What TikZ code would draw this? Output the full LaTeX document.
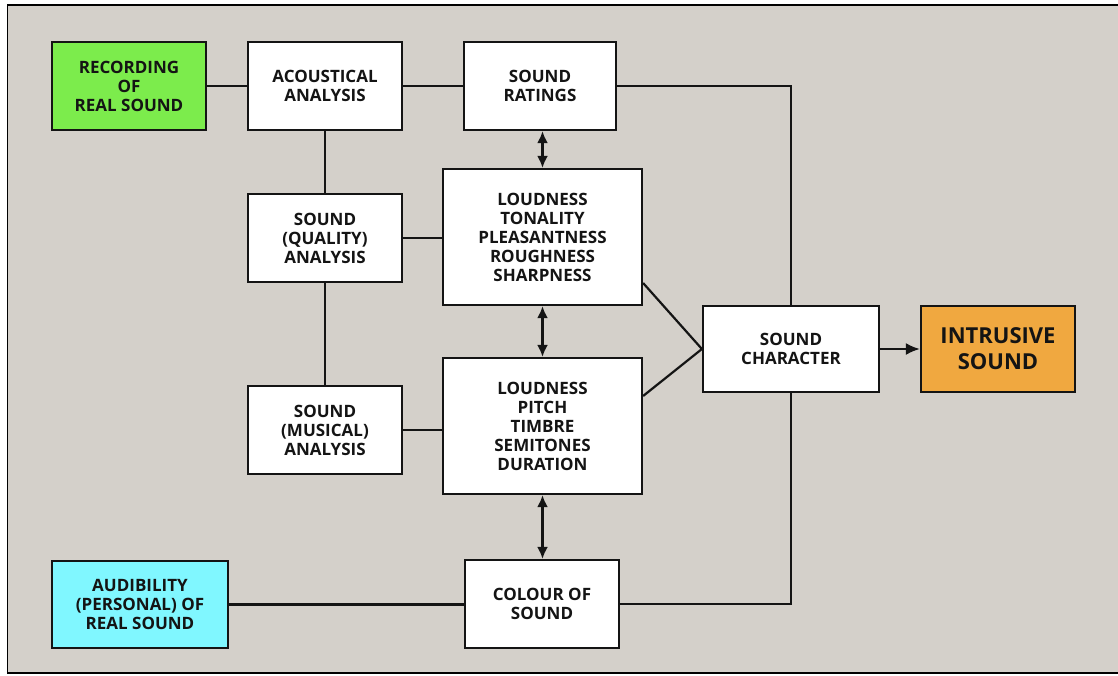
\documentclass[tikz,border=0pt]{standalone}
\usepackage{fontspec}
\setmainfont{Open Sans}
\usetikzlibrary{arrows.meta,calc}
\definecolor{bg}{RGB}{212,208,202}
\definecolor{recgreen}{RGB}{124,236,76}
\definecolor{audcyan}{RGB}{128,247,255}
\definecolor{intorange}{RGB}{240,168,64}
\definecolor{ink}{RGB}{20,20,20}
\begin{document}
\begin{tikzpicture}[x=1pt,y=-1pt,
  box/.style={draw=ink, line width=2.2pt, fill=white, align=center, inner sep=0pt,
    font=\fontsize{17}{19}\selectfont\bfseries, text=ink},
  conn/.style={draw=ink, line width=2.2pt},
  dbl/.style={draw=ink, line width=2.2pt, {Latex[length=12pt,width=11pt]}-{Latex[length=12pt,width=11pt]}},
  arr/.style={draw=ink, line width=2.2pt, -{Latex[length=14pt,width=12pt]}}]
\useasboundingbox (0,0) rectangle (1118,675);
\fill[white] (0,0) rectangle (1118,675);
\draw[line width=1.8pt, fill=bg] (7.5,5) rectangle (1130,673);
% nodes
\node[box, fill=recgreen, minimum width=154pt, minimum height=88pt] (rec) at (129,86) {RECORDING\\OF\\REAL SOUND};
\node[box, minimum width=154pt, minimum height=88pt] (acou) at (325,86) {ACOUSTICAL\\ANALYSIS};
\node[box, minimum width=152pt, minimum height=88pt] (rat) at (540,86) {SOUND\\RATINGS};
\node[box, minimum width=154pt, minimum height=88pt] (qual) at (325,238) {SOUND\\(QUALITY)\\ANALYSIS};
\node[box, minimum width=199pt, minimum height=136pt] (loudA) at (542.5,237) {LOUDNESS\\TONALITY\\PLEASANTNESS\\ROUGHNESS\\SHARPNESS};
\node[box, minimum width=154pt, minimum height=88pt] (mus) at (325,430) {SOUND\\(MUSICAL)\\ANALYSIS};
\node[box, minimum width=199pt, minimum height=136pt] (loudB) at (542.5,426) {LOUDNESS\\PITCH\\TIMBRE\\SEMITONES\\DURATION};
\node[box, minimum width=176pt, minimum height=86pt] (char) at (791,349) {SOUND\\CHARACTER};
\node[box, fill=intorange, minimum width=154pt, minimum height=86pt, font=\fontsize{22}{26}\selectfont\bfseries] (intr) at (998,349) {INTRUSIVE\\SOUND};
\node[box, minimum width=154pt, minimum height=88pt] (col) at (542,604) {COLOUR OF\\SOUND};
\node[box, fill=audcyan, minimum width=176pt, minimum height=87pt] (aud) at (140,604.5) {AUDIBILITY\\(PERSONAL) OF\\REAL SOUND};
% connectors
\draw[conn] (rec.east) -- (acou.west);
\draw[conn] (acou.east) -- (rat.west);
\draw[conn] (rat.east) -| (char.north);
\draw[conn] (acou.south) -- (qual.north);
\draw[conn] (qual.south) -- (mus.north);
\draw[conn] (qual.east) -- (qual.east -| loudA.west);
\draw[conn] (mus.east) -- (mus.east -| loudB.west);
\draw[dbl] (rat.south -| loudA.north) -- (loudA.north);
\draw[dbl] (loudA.south) -- (loudB.north);
\draw[dbl] (loudB.south) -- (col.north -| loudB.south);
\draw[conn] ($(loudA.east)+(0,46)$) -- (char.west) -- ($(loudB.east)+(0,-30)$);
\draw[arr] (char.east) -- (intr.west);
\draw[conn] (col.east) -| (char.south);
\draw[conn] (aud.east) -- (aud.east -| col.west);
\end{tikzpicture}
\end{document}
